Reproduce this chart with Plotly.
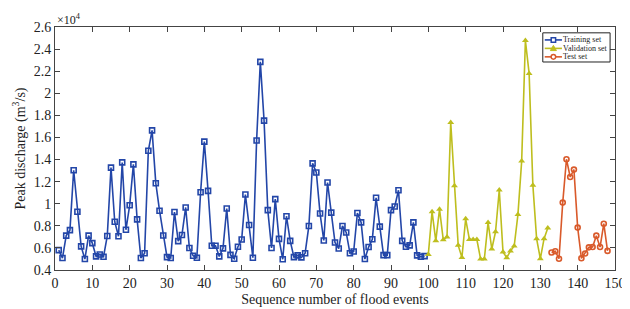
import plotly.graph_objects as go

# Peak discharge values (m3/s)
train_x = list(range(1, 100))
train_y = [5800, 5080, 7110, 7610, 13030, 9280, 6140, 4990, 7110, 6430,
           5230, 5410, 5200, 7080, 13270, 8370, 7050, 13740, 7640, 9860,
           13560, 8580, 5080, 5520, 14790, 16640, 11860, 9370, 7130, 5170,
           5080, 9250, 6610, 7170, 9660, 5990, 5290, 5110, 11040, 15620,
           11160, 6200, 6200, 5230, 5960, 9570, 5370, 5020, 6110, 6760,
           10830, 8080, 5110, 15730, 22840, 17520, 9420, 5990, 10420, 6820,
           4970, 8870, 6640, 5170, 5320, 5140, 5520, 7990, 13650, 12830,
           9110, 6670, 11920, 9190, 6490, 5940, 7990, 7400, 5520, 5670,
           9160, 8310, 4990, 6080, 6780, 10540, 7930, 5350, 5350, 9420,
           9750, 11220, 6640, 6110, 6230, 8310, 5320, 5200, 5260]
val_x = list(range(100, 133))
val_y = [5410, 9280, 6640, 9510, 6730, 6990, 17350, 11620, 6230, 5140,
         8630, 6760, 6760, 6760, 4990, 4990, 8310, 5900, 7460, 11240,
         5640, 5110, 5730, 6170, 9020, 13860, 24770, 21800, 11680, 6840,
         5020, 6840, 7810]
test_x = list(range(133, 149))
test_y = [5580, 5700, 5020, 10100, 14030, 12420, 13090, 7840, 5060, 5500,
          6050, 6080, 7110, 6080, 8190, 5730]

series_names = ["Training set", "Validation set", "Test set"]
y_ticks = [4000 + 2000 * k for k in range(12)]
y_ticktext = ["0.4", "0.6", "0.8", "1", "1.2", "1.4", "1.6", "1.8", "2", "2.2", "2.4", "2.6"]
x_ticks = list(range(0, 151, 10))

blue = "#2346A8"
yellow = "#BEBE1E"
orange = "#D95A2B"

fig = go.Figure()
fig.add_trace(go.Scatter(x=train_x, y=train_y, mode="lines+markers", name=series_names[0],
                         line=dict(color=blue, width=1.6),
                         marker=dict(symbol="square-open", size=5, color=blue, line=dict(width=1.6))))
fig.add_trace(go.Scatter(x=val_x, y=val_y, mode="lines+markers", name=series_names[1],
                         line=dict(color=yellow, width=1.6),
                         marker=dict(symbol="triangle-up", size=6, color=yellow)))
fig.add_trace(go.Scatter(x=test_x, y=test_y, mode="lines+markers", name=series_names[2],
                         line=dict(color=orange, width=1.6),
                         marker=dict(symbol="circle-open", size=5, color=orange, line=dict(width=1.6))))

font_family = "Liberation Serif"
W, H = 630, 309
ML, MR, MT, MB = 45, 15, 19, 40
PW, PH = W - ML - MR, H - MT - MB


def px_x(p):
    return (p - ML) / PW


def px_y(p):
    return (H - MB - p) / PH


fig.update_layout(
    width=W, height=H,
    margin=dict(l=ML, r=MR, t=MT, b=MB),
    paper_bgcolor="white", plot_bgcolor="white",
    font=dict(family=font_family, size=14, color="#222222"),
    showlegend=False,
    xaxis=dict(range=[0, 150], tickvals=x_ticks, ticks="inside", ticklen=5,
               showline=True, linecolor="#444444", linewidth=1, mirror="ticks",
               tickcolor="#444444", showgrid=False, zeroline=False,
               title=dict(text="Sequence number of flood events", standoff=4,
                          font=dict(size=14))),
    yaxis=dict(range=[4000, 26000], tickvals=y_ticks, ticktext=y_ticktext,
               ticks="inside", ticklen=5,
               showline=True, linecolor="#444444", linewidth=1, mirror="ticks",
               tickcolor="#444444", showgrid=False, zeroline=False,
               title=dict(text="Peak discharge (m<sup>3</sup>/s)", standoff=4,
                          font=dict(size=14))),
)
fig.add_annotation(text="×10<sup>4</sup>", xref="paper", yref="paper", x=0.0, y=1.0,
                   xanchor="left", yanchor="bottom", showarrow=False,
                   font=dict(family=font_family, size=12, color="#222222"), yshift=-2)

# Compact MATLAB-style legend box
fig.add_shape(type="rect", xref="paper", yref="paper",
              x0=px_x(541.5), x1=px_x(610), y0=px_y(55), y1=px_y(25),
              line=dict(color="#222222", width=1), fillcolor="white", layer="above")
row_y = [32.3, 41.0, 49.7]
colors = [blue, yellow, orange]
for k in range(3):
    yy = px_y(row_y[k])
    fig.add_shape(type="line", xref="paper", yref="paper",
                  x0=px_x(543.5), x1=px_x(561.0), y0=yy, y1=yy,
                  line=dict(color=colors[k], width=1.6), layer="above")
    cx = px_x(552.3)
    if k == 0:
        fig.add_shape(type="rect", xref="paper", yref="paper", xsizemode="pixel", ysizemode="pixel",
                      xanchor=cx, yanchor=yy, x0=-2.2, x1=2.2, y0=-2.2, y1=2.2,
                      line=dict(color=blue, width=1.5), fillcolor="white", layer="above")
    elif k == 1:
        fig.add_shape(type="path", xref="paper", yref="paper", xsizemode="pixel", ysizemode="pixel",
                      xanchor=cx, yanchor=yy, path="M -3 -2.2 L 3 -2.2 L 0 3 Z",
                      line=dict(color=yellow, width=1), fillcolor=yellow, layer="above")
    else:
        fig.add_shape(type="circle", xref="paper", yref="paper", xsizemode="pixel", ysizemode="pixel",
                      xanchor=cx, yanchor=yy, x0=-2.3, x1=2.3, y0=-2.3, y1=2.3,
                      line=dict(color=orange, width=1.5), fillcolor="white", layer="above")
    fig.add_annotation(text=series_names[k], xref="paper", yref="paper",
                       x=px_x(560.5), y=yy, xanchor="left", yanchor="middle",
                       showarrow=False, font=dict(family=font_family, size=8, color="#222222"))

fig.write_html("out.html")
